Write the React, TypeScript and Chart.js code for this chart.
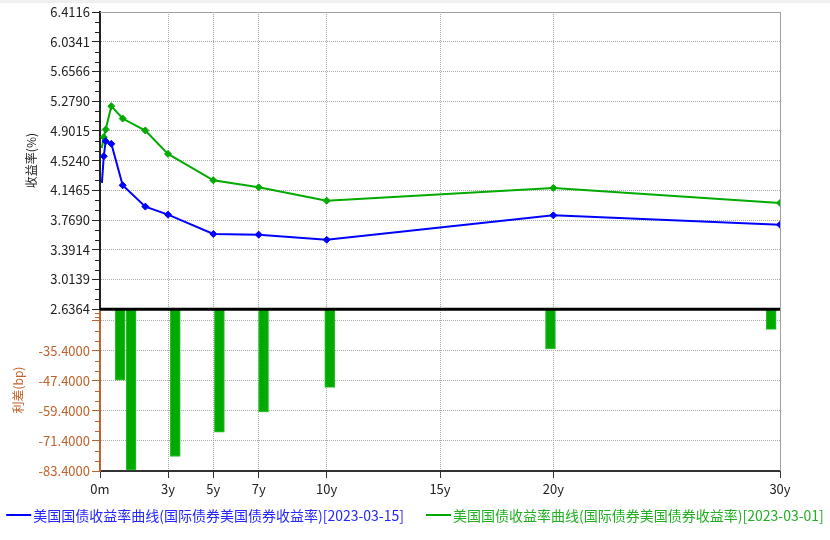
import React, { useEffect, useRef } from 'react';
import { Chart, registerables } from 'chart.js';

Chart.register(...registerables);

// ---- data ----
const tenors = [1 / 12, 2 / 12, 3 / 12, 0.5, 1, 2, 3, 5, 7, 10, 20, 30];
const yield0315 = [4.24, 4.579, 4.77, 4.737, 4.21, 3.939, 3.837, 3.591, 3.583, 3.518, 3.828, 3.709];
const yield0301 = [4.686, 4.821, 4.918, 5.215, 5.058, 4.906, 4.609, 4.273, 4.184, 4.015, 4.176, 3.986];
const spreadTenors = [0.5, 1, 3, 5, 7, 10, 20, 30];
const spreadBp = [-47.1, -83.0, -77.6, -67.9, -59.8, -50.0, -34.7, -26.9];

const xTickValues = [0, 3, 5, 7, 10, 15, 20, 30];
const xTickLabels = ['0m', '3y', '5y', '7y', '10y', '15y', '20y', '30y'];
const yieldTicks = [2.6364, 3.0139, 3.3914, 3.769, 4.1465, 4.524, 4.9015, 5.279, 5.6566, 6.0341, 6.4116];
const spreadTicks = [-83.4, -71.4, -59.4, -47.4, -35.4, -23.4];
const spreadTickLabels = ['-83.4000', '-71.4000', '-59.4000', '-47.4000', '-35.4000', ''];

const seriesLabels = [
  '美国国债收益率曲线(国际债券美国债券收益率)[2023-03-15]',
  '美国国债收益率曲线(国际债券美国债券收益率)[2023-03-01]',
];
const lineColors = ['#0000ff', '#00aa00'];
const legendTextColors = ['#2525ff', '#22b022'];
const barColor = '#00aa00';
const spreadColor = '#c0622b';

const FONT = '"Noto Sans CJK SC", "Noto Sans", sans-serif';

const decor = {
  id: 'decor',
  beforeDraw(chart: any) {
    const { ctx, width, height } = chart;
    ctx.save();
    ctx.fillStyle = '#ffffff';
    ctx.fillRect(0, 0, width, height);
    ctx.fillStyle = '#f0f0f0';
    ctx.fillRect(0, 0, width, 3);
    ctx.restore();
  },
  beforeDatasetsDraw(chart: any) {
    const { ctx, chartArea } = chart;
    ctx.save();
    ctx.strokeStyle = '#a0a0a0';
    ctx.lineWidth = 1;
    ctx.beginPath();
    ctx.moveTo(chartArea.left, Math.round(chartArea.top) + 0.5);
    ctx.lineTo(Math.round(chartArea.right) + 0.5, Math.round(chartArea.top) + 0.5);
    ctx.lineTo(Math.round(chartArea.right) + 0.5, chartArea.bottom);
    ctx.stroke();
    ctx.restore();
  },
  afterDatasetsDraw(chart: any) {
    const { ctx, chartArea } = chart;
    const yt = chart.scales.yt;
    const yb = chart.scales.yb;
    ctx.save();
    // separator between the two panels
    ctx.strokeStyle = '#000';
    ctx.lineWidth = 3;
    ctx.beginPath();
    ctx.moveTo(chartArea.left, yt.bottom);
    ctx.lineTo(chartArea.right, yt.bottom);
    ctx.stroke();
    // minor ticks
    const minor = (scale: any, majors: number[], color: string) => {
      ctx.strokeStyle = color;
      ctx.lineWidth = 1;
      ctx.beginPath();
      for (let i = 0; i < majors.length - 1; i++) {
        const a = majors[i];
        const b = majors[i + 1];
        for (let k = 1; k < 3; k++) {
          const v = a + ((b - a) * k) / 3;
          const p = Math.round(scale.getPixelForValue(v)) + 0.5;
          ctx.moveTo(scale.right - 5, p);
          ctx.lineTo(scale.right, p);
        }
      }
      ctx.stroke();
    };
    minor(yt, yieldTicks, '#222');
    const bMajors = [...spreadTicks, yb.max];
    minor(yb, bMajors, spreadColor);
    ctx.restore();
  },
  afterDraw(chart: any) {
    const { ctx, width, height } = chart;
    ctx.save();
    ctx.font = `14px ${FONT}`;
    ctx.textBaseline = 'middle';
    const lineW = 25;
    const gap = 2;
    const itemGap = 22;
    const w1 = ctx.measureText(seriesLabels[0]).width;
    const w2 = ctx.measureText(seriesLabels[1]).width;
    const total = lineW + gap + w1 + itemGap + lineW + gap + w2;
    let x = (width - total) / 2;
    const y = height - 25;
    for (let i = 0; i < 2; i++) {
      ctx.strokeStyle = lineColors[i];
      ctx.lineWidth = 2;
      ctx.beginPath();
      ctx.moveTo(x, y);
      ctx.lineTo(x + lineW, y);
      ctx.stroke();
      ctx.fillStyle = legendTextColors[i];
      ctx.fillText(seriesLabels[i], x + lineW + gap, y + 1);
      x += lineW + gap + (i === 0 ? w1 : w2) + itemGap;
    }
    ctx.restore();
  },
};

export default function App() {
  const ref = useRef<HTMLCanvasElement | null>(null);

  useEffect(() => {
    if (!ref.current) return;
    const dotted = '#a8a8a8';
    const chart = new Chart(ref.current, {
      data: {
        datasets: [
          {
            type: 'bar',
            label: '利差',
            data: spreadTenors.map((t, i) => ({ x: t, y: spreadBp[i] })),
            xAxisID: 'x2',
            yAxisID: 'yb',
            backgroundColor: barColor,
            borderColor: '#2fc02f',
            borderWidth: 1,
            barThickness: 10,
            grouped: false,
          } as any,
          {
            type: 'line',
            label: seriesLabels[0],
            data: tenors.map((t, i) => ({ x: t, y: yield0315[i] })),
            xAxisID: 'x',
            yAxisID: 'yt',
            borderColor: lineColors[0],
            backgroundColor: lineColors[0],
            borderWidth: 2,
            pointStyle: 'rectRot',
            pointRadius: tenors.map((_, i) => (i === 0 ? 0 : 3.5)),
            pointBorderWidth: 1,
            tension: 0,
          } as any,
          {
            type: 'line',
            label: seriesLabels[1],
            data: tenors.map((t, i) => ({ x: t, y: yield0301[i] })),
            xAxisID: 'x',
            yAxisID: 'yt',
            borderColor: lineColors[1],
            backgroundColor: lineColors[1],
            borderWidth: 2,
            pointStyle: 'rectRot',
            pointRadius: tenors.map((_, i) => (i === 0 ? 0 : 3.5)),
            pointBorderWidth: 1,
            tension: 0,
          } as any,
        ],
      },
      options: {
        responsive: false,
        animation: false,
        events: [],
        layout: { padding: { top: 12, right: 50, left: 0, bottom: 0 } },
        plugins: { legend: { display: false }, tooltip: { enabled: false } },
        scales: {
          x: {
            type: 'linear',
            position: 'bottom',
            min: 0,
            max: 30,
            offset: false,
            afterBuildTicks: (s: any) => {
              s.ticks = xTickValues.map((v) => ({ value: v }));
            },
            afterFit: (s: any) => {
              s.height = 69;
            },
            ticks: {
              autoSkip: false,
              maxRotation: 0,
              padding: 3,
              color: '#222',
              font: { size: 13, family: FONT },
              callback: (v: any) => xTickLabels[xTickValues.indexOf(Number(v))] ?? '',
            },
            grid: {
              color: dotted,
              lineWidth: 1,
              tickColor: '#333',
              tickLength: 7,
              offset: false,
            },
            border: { color: '#333', width: 2, dash: [1, 1] },
          },
          x2: {
            type: 'linear',
            position: 'top',
            display: true,
            offset: false,
            min: -0.41,
            max: 30.4,
            afterFit: (s: any) => {
              s.height = 0;
            },
            ticks: { display: false },
            grid: { display: false, drawTicks: false, offset: false },
            border: { display: false },
          },
          yb: {
            type: 'linear',
            position: 'left',
            stack: 'panels',
            stackWeight: 161.5,
            min: -83.4,
            max: -18.8,
            afterBuildTicks: (s: any) => {
              s.ticks = spreadTicks.map((v) => ({ value: v }));
            },
            afterFit: (s: any) => {
              s.width = 100;
            },
            ticks: {
              autoSkip: false,
              padding: 2,
              color: spreadColor,
              font: { size: 13, family: FONT },
              callback: (v: any) => spreadTickLabels[spreadTicks.indexOf(Number(v))] ?? '',
            },
            grid: {
              color: dotted,
              lineWidth: 1,
              tickColor: spreadColor,
              tickLength: 8,
            },
            border: { color: spreadColor, width: 2, dash: [1, 1] },
            title: {
              display: true,
              text: '利差(bp)',
              color: spreadColor,
              font: { size: 12, family: FONT },
              padding: { top: 11, bottom: 0 },
            },
          },
          yt: {
            type: 'linear',
            position: 'left',
            stack: 'panels',
            stackWeight: 296.5,
            min: 2.6364,
            max: 6.4116,
            afterBuildTicks: (s: any) => {
              s.ticks = yieldTicks.map((v) => ({ value: v }));
            },
            afterFit: (s: any) => {
              s.width = 100;
            },
            ticks: {
              autoSkip: false,
              padding: 2,
              color: '#222',
              font: { size: 13, family: FONT },
              callback: (v: any) => Number(v).toFixed(4),
            },
            grid: {
              color: dotted,
              lineWidth: 1,
              tickColor: '#222',
              tickLength: 8,
            },
            border: { color: '#222', width: 2, dash: [1, 1] },
            title: {
              display: true,
              text: '收益率(%)',
              color: '#222',
              font: { size: 12, family: FONT },
              padding: { top: 24, bottom: 0 },
            },
          },
        },
      } as any,
      plugins: [decor],
    });
    return () => chart.destroy();
  }, []);

  return (
    <div style={{ position: 'absolute', left: 0, top: 0, width: 830, height: 540, background: '#fff' }}>
      <canvas ref={ref} width={830} height={540} style={{ display: 'block' }} />
    </div>
  );
}
